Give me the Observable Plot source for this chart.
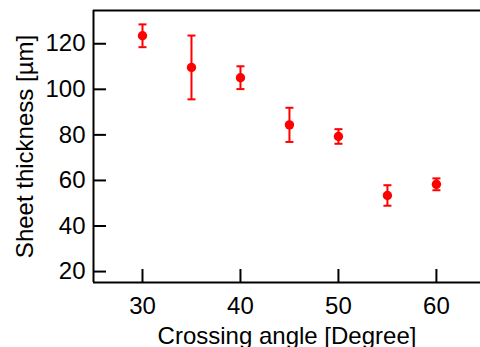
<!DOCTYPE html>
<html>
<head>
<meta charset="utf-8">
<script src="https://cdn.jsdelivr.net/npm/d3@7"></script>
<script src="https://cdn.jsdelivr.net/npm/@observablehq/plot@0.6"></script>
<style>
  html, body { margin: 0; padding: 0; background: #fff; }
</style>
</head>
<body>
<div id="chart"></div>
<script>
const angles = [30, 35, 40, 45, 50, 55, 60];
const thickness = [123.5, 109.6, 105.1, 84.4, 79.3, 53.4, 58.3];
const errors = [5.0, 14.0, 5.0, 7.5, 3.2, 4.5, 2.6];
const xTicks = [30, 40, 50, 60];
const yTicks = [20, 40, 60, 80, 100, 120];
const xDomain = [25, 64.5];
const yDomain = [15.2, 134.6];

const data = angles.map((a, i) => ({
  angle: a,
  value: thickness[i],
  lo: thickness[i] - errors[i],
  hi: thickness[i] + errors[i]
}));

const cap = {
  draw(context, size) {
    const w = Math.sqrt(size / Math.PI);
    context.moveTo(-w, 0);
    context.lineTo(w, 0);
  }
};

const chart = Plot.plot({
  width: 480,
  height: 347,
  marginLeft: 93,
  marginRight: 0,
  marginTop: 10,
  marginBottom: 65,
  style: { fontFamily: "'Liberation Sans', Arial, sans-serif", fontSize: "24px", color: "black", background: "white" },
  x: { domain: xDomain, ticks: xTicks },
  y: { domain: yDomain, ticks: yTicks },
  marks: [
    Plot.axisX({ ticks: xTicks, tickSize: -13, tickPadding: 27, strokeWidth: 2, fontSize: 24, label: "Crossing angle [Degree]", labelAnchor: "center", labelArrow: "none", labelOffset: 61 }),
    Plot.axisY({ ticks: yTicks, tickSize: -13, tickPadding: 21, strokeWidth: 2, fontSize: 24, label: "Sheet thickness [µm]", labelAnchor: "center", labelArrow: "none", labelOffset: 78 }),
    Plot.ruleX([xDomain[0]], { stroke: "black", strokeWidth: 2 }),
    Plot.ruleY([yDomain[0], yDomain[1]], { stroke: "black", strokeWidth: 2 }),
    Plot.ruleX(data, { x: "angle", y1: "lo", y2: "hi", stroke: "#ff0000", strokeWidth: 2 }),
    Plot.dot(data, { x: "angle", y: "lo", symbol: cap, r: 4, stroke: "#ff0000", strokeWidth: 2 }),
    Plot.dot(data, { x: "angle", y: "hi", symbol: cap, r: 4, stroke: "#ff0000", strokeWidth: 2 }),
    Plot.dot(data, { x: "angle", y: "value", r: 4.7, fill: "#ff0000", stroke: "none" })
  ]
});
document.getElementById("chart").appendChild(chart);
</script>
</body>
</html>
